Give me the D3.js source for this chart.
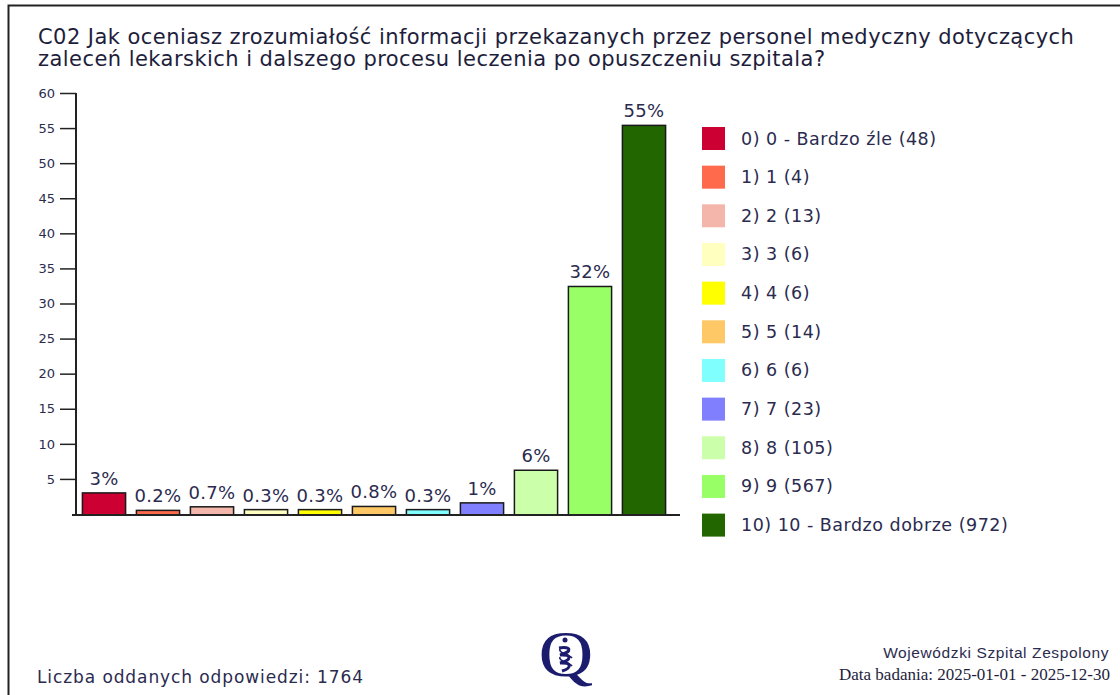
<!DOCTYPE html>
<html><head><meta charset="utf-8">
<script src="https://cdn.jsdelivr.net/npm/d3@7"></script>
<style>
html,body{margin:0;padding:0;background:#fff;}
svg{display:block;font-family:"DejaVu Sans",Verdana,sans-serif;}
</style></head>
<body>
<script>
const titleLines = [
  "C02 Jak oceniasz zrozumiałość informacji przekazanych przez personel medyczny dotyczących",
  "zaleceń lekarskich i dalszego procesu leczenia po opuszczeniu szpitala?"
];
const categories = ["0) 0 - Bardzo źle","1) 1","2) 2","3) 3","4) 4","5) 5","6) 6","7) 7","8) 8","9) 9","10) 10 - Bardzo dobrze"];
const counts = [48, 4, 13, 6, 6, 14, 6, 23, 105, 567, 972];
const percents = [2.72, 0.23, 0.74, 0.34, 0.34, 0.79, 0.34, 1.30, 5.95, 32.14, 55.10];
const barLabels = ["3%","0.2%","0.7%","0.3%","0.3%","0.8%","0.3%","1%","6%","32%","55%"];
const colors = ["#cc0033","#ff6a4d","#f4b6aa","#ffffc0","#ffff00","#ffc866","#80ffff","#8080ff","#ccffaa","#99ff66","#226600"];
const yTicks = [5,10,15,20,25,30,35,40,45,50,55,60];
const totalLabel = "Liczba oddanych odpowiedzi: 1764";
const orgLabel = "Wojewódzki Szpital Zespolony";
const dateLabel = "Data badania: 2025-01-01 - 2025-12-30";

const W = 1120, H = 695;
const textCol = "#2b2b4f";
const svg = d3.select("body").append("svg").attr("width", W).attr("height", H);

// frame
svg.append("path").attr("d", `M8.5,${H} V5.5 H${W}`).attr("fill","none").attr("stroke","#222").attr("stroke-width",2);

// title
svg.append("g").selectAll("text").data(titleLines).join("text")
  .attr("x", 38).attr("y", (d,i) => 44 + i*22)
  .attr("font-size", 21).attr("letter-spacing", 0.45).attr("fill", "#1e1e3c").text(d => d);

const x = d3.scaleBand().domain(d3.range(categories.length)).range([77, 671]).paddingInner(0.2).paddingOuter(0.1);
const y = d3.scaleLinear().domain([0, 60]).range([514, 93]);
const baseY = 515;

// y axis
const yAxis = svg.append("g").attr("transform", "translate(76,0)")
  .call(d3.axisLeft(y).tickValues(yTicks).tickSize(16).tickPadding(5));
yAxis.select(".domain").remove();
yAxis.selectAll(".tick line").attr("stroke", "#222").attr("stroke-width", 1.5);
yAxis.selectAll(".tick text").attr("font-size", 13).attr("fill", textCol).attr("font-family", "DejaVu Sans, sans-serif");
svg.append("line").attr("x1", 76).attr("x2", 76).attr("y1", y(60)).attr("y2", baseY)
  .attr("stroke", "#222").attr("stroke-width", 2);

// bars
svg.append("g").selectAll("rect").data(percents).join("rect")
  .attr("x", (d,i) => x(i)).attr("width", x.bandwidth())
  .attr("y", d => y(d) - 2).attr("height", d => baseY - y(d) + 2)
  .attr("fill", (d,i) => colors[i]).attr("stroke", "#1a1a1a").attr("stroke-width", 1.5);

// baseline
svg.append("line").attr("x1", 72).attr("x2", 680).attr("y1", baseY).attr("y2", baseY)
  .attr("stroke", "#222").attr("stroke-width", 2);

// bar labels
svg.append("g").selectAll("text").data(percents).join("text")
  .attr("x", (d,i) => x(i) + x.bandwidth()/2).attr("y", d => y(d) - 10)
  .attr("text-anchor", "middle").attr("font-size", 18).attr("letter-spacing", 0.3).attr("fill", textCol)
  .text((d,i) => barLabels[i]);

// legend
const leg = svg.append("g").selectAll("g").data(categories).join("g")
  .attr("transform", (d,i) => `translate(702,${127 + i*38.66})`);
leg.append("rect").attr("width", 23).attr("height", 23).attr("fill", (d,i) => colors[i]);
leg.append("text").attr("x", 39).attr("y", 17.5).attr("font-size", 17.5).attr("letter-spacing", 0.5).attr("fill", textCol)
  .text((d,i) => `${d} (${counts[i]})`);

// footer
svg.append("text").attr("x", 37).attr("y", 683).attr("font-size", 17).attr("letter-spacing", 0.9).attr("fill", textCol).text(totalLabel);
svg.append("text").attr("x", 1109).attr("y", 658).attr("text-anchor","end").attr("font-size", 15.5).attr("letter-spacing", 0.6)
  .attr("font-family", "Liberation Sans, Arial, sans-serif").attr("fill", textCol).text(orgLabel);
svg.append("text").attr("x", 1110).attr("y", 680).attr("text-anchor","end").attr("font-size", 17)
  .attr("font-family", "Liberation Serif, Times New Roman, serif").attr("fill", "#1e1e3c").text(dateLabel);

// logo
const logo = svg.append("g").attr("transform", "translate(566,0)");
logo.append("text").attr("x", 0).attr("y", 676).attr("text-anchor", "middle")
  .attr("transform", "scale(1.15,1)").attr("transform-origin", "0 0")
  .attr("font-family", "Liberation Serif, Times New Roman, serif").attr("font-size", 66).attr("fill", "#1c1c6e").text("Q");
const helix = logo.append("g").attr("transform", "translate(0,654)").attr("fill","none").attr("stroke","#1c1c6e");
helix.append("circle").attr("cx", -1).attr("cy", -14).attr("r", 2.5).attr("fill","#1c1c6e").attr("stroke","none");
helix.append("path").attr("d", "M-7,-6 C6,-8 6,-2 -6,1 C6,0 6,6 -6,9 C6,8 6,14 -4,17").attr("stroke-width", 3);
helix.append("path").attr("d", "M-6,-5 C-8,-1 4,1 6,4 M-6,3 C-8,7 4,9 6,12").attr("stroke-width", 1.5);
</script>
</body></html>
